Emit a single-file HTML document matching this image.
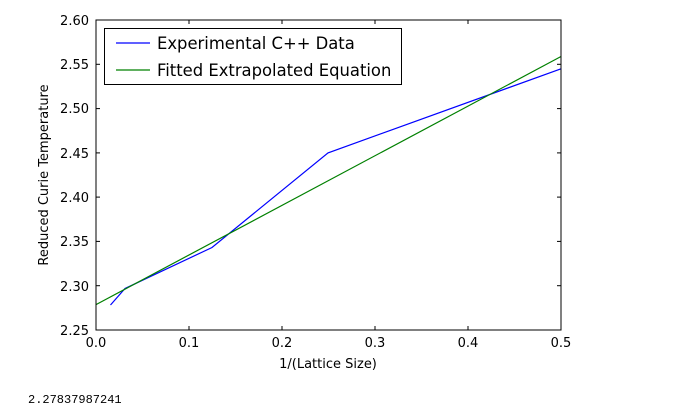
<!DOCTYPE html>
<html><head><style>body{margin:0;background:#fff;}svg{display:block;font-family:"DejaVu Sans","Liberation Sans",sans-serif;}</style></head>
<body>
<svg width="680" height="417" viewBox="0 0 680 417" xmlns="http://www.w3.org/2000/svg">
<rect width="680" height="417" fill="#fff"/>
<g stroke="#000" stroke-width="1">
<line x1="96" y1="330" x2="96" y2="326"/><line x1="189" y1="330" x2="189" y2="326"/><line x1="282" y1="330" x2="282" y2="326"/><line x1="375" y1="330" x2="375" y2="326"/><line x1="468" y1="330" x2="468" y2="326"/>
<line x1="189" y1="20" x2="189" y2="24"/><line x1="282" y1="20" x2="282" y2="24"/><line x1="375" y1="20" x2="375" y2="24"/><line x1="468" y1="20" x2="468" y2="24"/>
<line x1="96" y1="285.7" x2="100" y2="285.7"/><line x1="96" y1="241.4" x2="100" y2="241.4"/><line x1="96" y1="197.1" x2="100" y2="197.1"/><line x1="96" y1="152.9" x2="100" y2="152.9"/><line x1="96" y1="108.6" x2="100" y2="108.6"/><line x1="96" y1="64.3" x2="100" y2="64.3"/>
<line x1="561" y1="285.7" x2="557" y2="285.7"/><line x1="561" y1="241.4" x2="557" y2="241.4"/><line x1="561" y1="197.1" x2="557" y2="197.1"/><line x1="561" y1="152.9" x2="557" y2="152.9"/><line x1="561" y1="108.6" x2="557" y2="108.6"/><line x1="561" y1="64.3" x2="557" y2="64.3"/>
</g>
<polyline fill="none" stroke="#0000ff" stroke-width="1.2" points="110.5,305 125,288.5 212,247.5 328,152.9 561,68.8"/>
<polyline fill="none" stroke="#008000" stroke-width="1.2" points="96,304.6 561,56.5"/>
<rect x="96" y="20" width="465" height="310" fill="none" stroke="#000" stroke-width="1"/>
<g font-size="13" text-anchor="end">
<text x="89" y="335">2.25</text><text x="89" y="291">2.30</text><text x="89" y="246">2.35</text><text x="89" y="202">2.40</text><text x="89" y="158">2.45</text><text x="89" y="113">2.50</text><text x="89" y="69">2.55</text><text x="89" y="25">2.60</text>
</g>
<g font-size="13" text-anchor="middle">
<text x="96" y="347">0.0</text><text x="189" y="347">0.1</text><text x="282" y="347">0.2</text><text x="375" y="347">0.3</text><text x="468" y="347">0.4</text><text x="561" y="347">0.5</text>
<text x="328" y="368">1/(Lattice Size)</text>
<text transform="translate(48,175) rotate(-90)">Reduced Curie Temperature</text>
</g>
<rect x="104.5" y="28.5" width="297" height="56" fill="#fff" stroke="#000" stroke-width="1"/>
<line x1="116" y1="43" x2="150" y2="43" stroke="#0000ff" stroke-width="1.2"/>
<line x1="116" y1="70" x2="150" y2="70" stroke="#008000" stroke-width="1.2"/>
<text x="157" y="49" font-size="16.4">Experimental C++ Data</text>
<text x="157" y="76" font-size="16.4">Fitted Extrapolated Equation</text>
<text x="28" y="403" font-size="12" font-family="Liberation Mono,monospace">2.27837987241</text>
</svg>
</body></html>
